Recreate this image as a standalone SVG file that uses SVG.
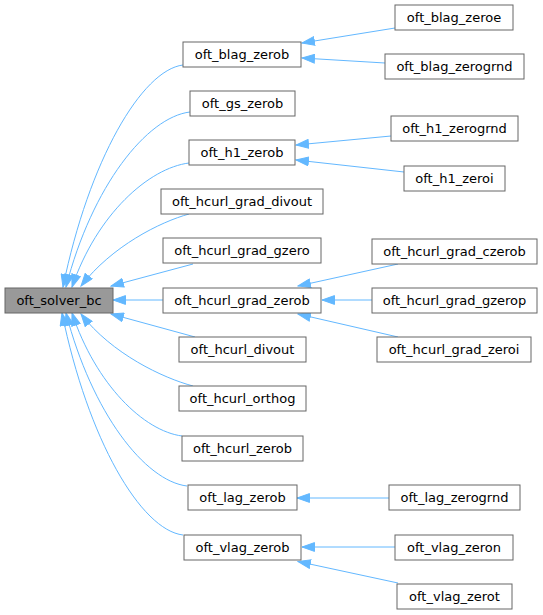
<svg xmlns="http://www.w3.org/2000/svg" width="543" height="615" viewBox="0 0 543 615">
<style>
.n rect{fill:#ffffff;stroke:#666666;stroke-width:1}
.n.root rect{fill:#999999}
.n text{font-family:"DejaVu Sans",sans-serif;font-size:13px;fill:#000000;text-anchor:middle}
.e path{fill:none;stroke:#63b8ff;stroke-width:1;marker-end:url(#ah)}
</style>
<defs>
<marker id="ah" markerUnits="userSpaceOnUse" markerWidth="14" markerHeight="10" refX="13" refY="5" orient="auto" viewBox="0 0 14 10">
<polygon points="0.5,0.6 13,5 0.5,9.4" fill="#63b8ff" stroke="#63b8ff" stroke-width="1"/>
</marker>
</defs>
<rect width="543" height="615" fill="#ffffff"/>
<g id="edges" class="e">
<path d="M183,65 C142,70 89,160 63,287"/>
<path d="M190,112 C147,117 92,186 66,287"/>
<path d="M189,163 C149,168 97,214 72,287"/>
<path d="M189,214 C160,222 112,246 81,286"/>
<path d="M193,264 L111,286"/>
<path d="M163,300 L113,300"/>
<path d="M195,337 L111,314"/>
<path d="M193,386 C163,378 112,354 81,314"/>
<path d="M182,436 C144,431 96,385 72,313"/>
<path d="M187,486 C145,481 92,413 66,313"/>
<path d="M183,535 C141,530 88,440 62,313"/>
<path d="M395,28 L302,43"/>
<path d="M385,63 L302,58"/>
<path d="M391,136 L296,145"/>
<path d="M404,172 L296,160"/>
<path d="M398,264 L298,286"/>
<path d="M372,300 L322,300"/>
<path d="M398,337 L298,314"/>
<path d="M389,498 L297,498"/>
<path d="M395,547 L302,547"/>
<path d="M398,583 L298,561.5"/>
</g>
<g id="oft_solver_bc" class="n root"><rect x="5" y="288" width="108" height="25"/><text x="59" y="305">oft_solver_bc</text></g>
<g id="oft_blag_zerob" class="n"><rect x="183" y="42" width="118" height="25"/><text x="242" y="59">oft_blag_zerob</text></g>
<g id="oft_gs_zerob" class="n"><rect x="190" y="91" width="105" height="25"/><text x="242.5" y="108">oft_gs_zerob</text></g>
<g id="oft_h1_zerob" class="n"><rect x="189" y="140" width="106" height="25"/><text x="242" y="157">oft_h1_zerob</text></g>
<g id="oft_hcurl_grad_divout" class="n"><rect x="161" y="189" width="162" height="25"/><text x="242" y="206">oft_hcurl_grad_divout</text></g>
<g id="oft_hcurl_grad_gzero" class="n"><rect x="163" y="238" width="158" height="25"/><text x="242" y="255">oft_hcurl_grad_gzero</text></g>
<g id="oft_hcurl_grad_zerob" class="n"><rect x="163" y="288" width="158" height="25"/><text x="242" y="305">oft_hcurl_grad_zerob</text></g>
<g id="oft_hcurl_divout" class="n"><rect x="179" y="337" width="127" height="25"/><text x="242.5" y="354">oft_hcurl_divout</text></g>
<g id="oft_hcurl_orthog" class="n"><rect x="179" y="386" width="127" height="25"/><text x="242.5" y="403">oft_hcurl_orthog</text></g>
<g id="oft_hcurl_zerob" class="n"><rect x="182" y="436" width="121" height="25"/><text x="242.5" y="453">oft_hcurl_zerob</text></g>
<g id="oft_lag_zerob" class="n"><rect x="188" y="485" width="109" height="25"/><text x="242.5" y="502">oft_lag_zerob</text></g>
<g id="oft_vlag_zerob" class="n"><rect x="184" y="535" width="117" height="25"/><text x="242.5" y="552">oft_vlag_zerob</text></g>
<g id="oft_blag_zeroe" class="n"><rect x="395" y="5" width="118" height="25"/><text x="454" y="22">oft_blag_zeroe</text></g>
<g id="oft_blag_zerogrnd" class="n"><rect x="385" y="54" width="139" height="25"/><text x="454.5" y="71">oft_blag_zerogrnd</text></g>
<g id="oft_h1_zerogrnd" class="n"><rect x="391" y="116" width="127" height="25"/><text x="454.5" y="133">oft_h1_zerogrnd</text></g>
<g id="oft_h1_zeroi" class="n"><rect x="404" y="166" width="101" height="25"/><text x="454.5" y="183">oft_h1_zeroi</text></g>
<g id="oft_hcurl_grad_czerob" class="n"><rect x="372" y="239" width="165" height="25"/><text x="454.5" y="256">oft_hcurl_grad_czerob</text></g>
<g id="oft_hcurl_grad_gzerop" class="n"><rect x="372" y="288" width="165" height="25"/><text x="454.5" y="305">oft_hcurl_grad_gzerop</text></g>
<g id="oft_hcurl_grad_zeroi" class="n"><rect x="377" y="337" width="154" height="25"/><text x="454" y="354">oft_hcurl_grad_zeroi</text></g>
<g id="oft_lag_zerogrnd" class="n"><rect x="389" y="485" width="131" height="25"/><text x="454.5" y="502">oft_lag_zerogrnd</text></g>
<g id="oft_vlag_zeron" class="n"><rect x="395" y="535" width="118" height="25"/><text x="454" y="552">oft_vlag_zeron</text></g>
<g id="oft_vlag_zerot" class="n"><rect x="397" y="584" width="115" height="25"/><text x="454.5" y="601">oft_vlag_zerot</text></g>
</svg>
